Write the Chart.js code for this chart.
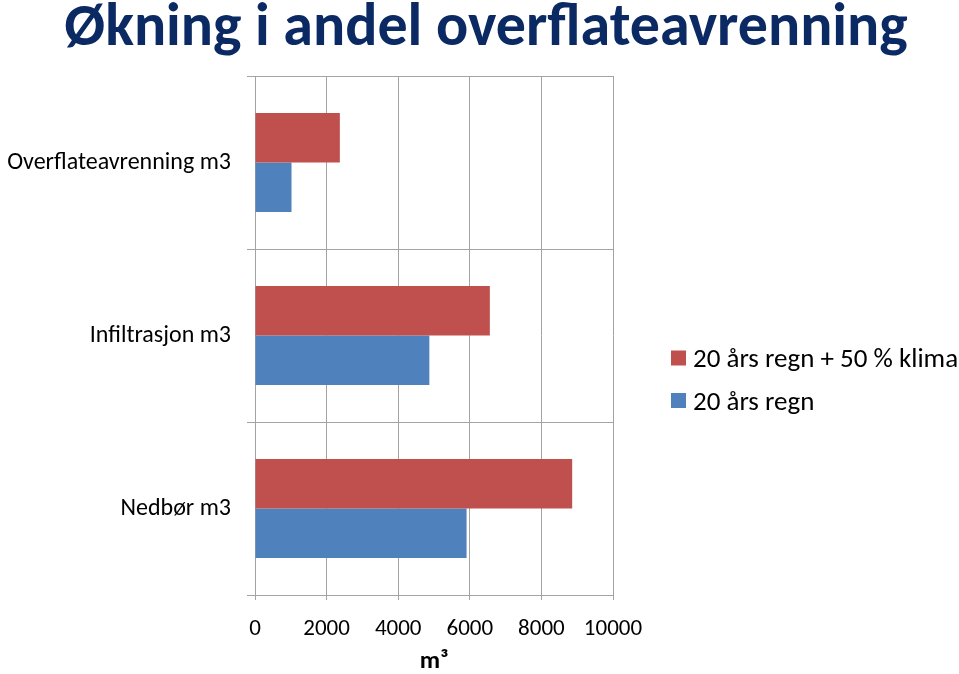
<!DOCTYPE html>
<html>
<head>
<meta charset="utf-8">
<script src="https://cdn.jsdelivr.net/npm/chart.js@4.4.1/dist/chart.umd.min.js"></script>
<style>
  html, body { margin: 0; padding: 0; background: #fff; }
</style>
</head>
<body>
<canvas id="chart" width="959" height="674"></canvas>
<script>
const categories = ["Overflateavrenning m3", "Infiltrasjon m3", "Nedbør m3"];
const klimaValues = [2370, 6560, 8860];
const regnValues = [1020, 4870, 5910];
const seriesNames = ["20 års regn + 50 % klima", "20 års regn"];
const chartTitle = "Økning i andel overflateavrenning";
const xMin = 0;
const xMax = 10000;
const xStep = 2000;

const FONT = "Carlito, Calibri, Lato, sans-serif";
const red = "#C0504D";
const blue = "#4F81BD";
const gridColor = "#a3a3a3";

// title and right-hand legend, drawn by hand so nothing gets squeezed
const extras = {
  id: "extras",
  afterDraw(chart) {
    const ctx = chart.ctx;
    ctx.save();
    ctx.fillStyle = "#0B2A64";
    ctx.font = "bold 60px " + FONT;
    ctx.textAlign = "center";
    ctx.textBaseline = "alphabetic";
    ctx.fillText(chartTitle, 486, 45);

    ctx.textAlign = "left";
    ctx.font = "27px " + FONT;
    chart.data.datasets.forEach((ds, i) => {
      const y = 358 + i * 42.5;
      ctx.fillStyle = ds.backgroundColor;
      ctx.fillRect(671, y - 7.5, 15, 15);
      ctx.fillStyle = "#000";
      ctx.fillText(ds.label, 693, y + 9);
    });
    ctx.restore();
  }
};

const ctx = document.getElementById("chart").getContext("2d");
const chart = new Chart(ctx, {
  type: "bar",
  data: {
    labels: categories,
    datasets: [
      { label: seriesNames[0], data: klimaValues, backgroundColor: red },
      { label: seriesNames[1], data: regnValues, backgroundColor: blue },
    ],
  },
  options: {
    indexAxis: "y",
    responsive: false,
    animation: false,
    barPercentage: 1,
    categoryPercentage: 0.572,
    layout: { padding: { left: 0, right: 346, top: 76, bottom: 0 } },
    plugins: {
      legend: { display: false },
      tooltip: { enabled: false },
      title: { display: false },
    },
    scales: {
      x: {
        min: xMin,
        max: xMax,
        ticks: {
          stepSize: xStep,
          color: "#000",
          font: { family: FONT, size: 23 },
          padding: 15,
          maxRotation: 0,
          callback: (v) => String(v),
        },
        grid: { color: gridColor, tickLength: 5 },
        border: { color: gridColor },
        title: {
          display: true,
          text: "m³",
          color: "#000",
          font: { family: FONT, size: 25, weight: "bold" },
          padding: { top: 0, bottom: -3 },
        },
        afterFit(scale) { scale.height = 79; },
      },
      y: {
        ticks: {
          color: "#000",
          font: { family: FONT, size: 24 },
          padding: 16,
        },
        grid: { color: gridColor, tickLength: 8, offset: true },
        border: { color: gridColor },
        afterFit(scale) { scale.width = 255; },
      },
    },
  },
  plugins: [extras],
});
</script>
</body>
</html>
